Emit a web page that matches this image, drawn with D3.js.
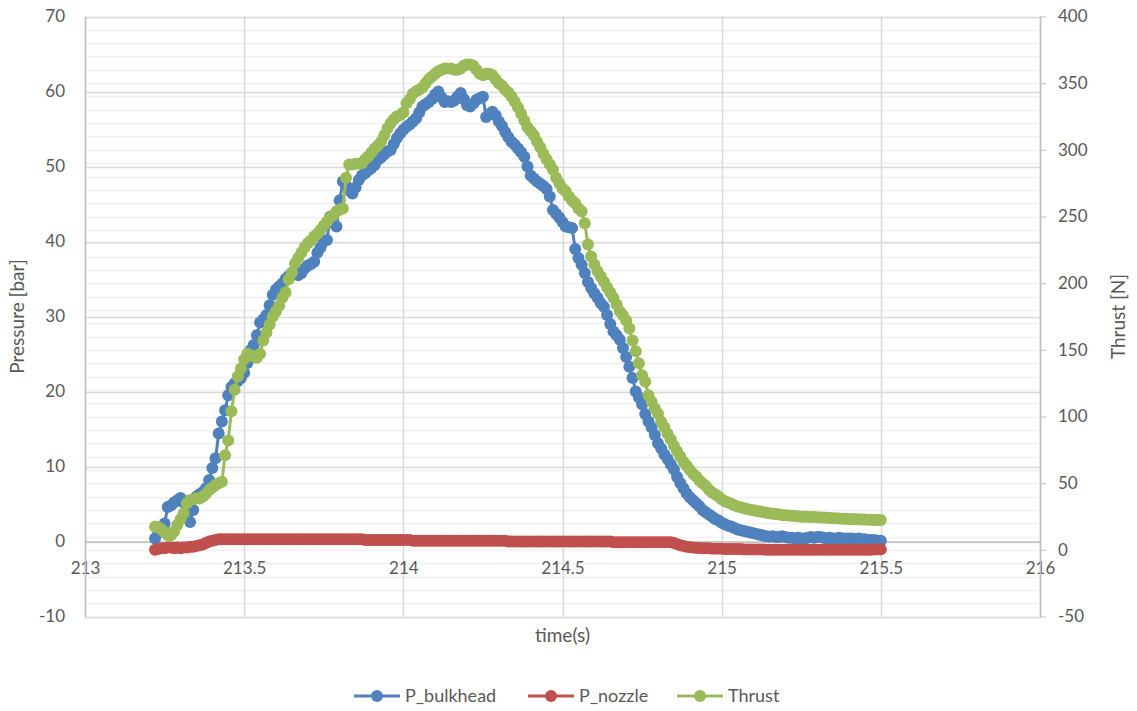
<!DOCTYPE html>
<html>
<head>
<meta charset="utf-8">
<script src="https://cdn.jsdelivr.net/npm/d3@7.9.0/dist/d3.min.js"></script>
<style>
  body { margin: 0; background: #fff; }
  svg { display: block; font-family: Lato, "Open Sans", sans-serif; }
</style>
</head>
<body>
<svg id="chart" width="1137" height="711"></svg>
<script>
// sample times (s)
const time = [
  213.22, 213.23, 213.24, 213.25, 213.26, 213.27, 213.28, 213.29,
  213.30, 213.31, 213.32, 213.33, 213.34, 213.35, 213.36, 213.37, 213.38, 213.39,
  213.40, 213.41, 213.42, 213.43, 213.44, 213.45, 213.46, 213.47, 213.48, 213.49,
  213.50, 213.51, 213.52, 213.53, 213.54, 213.55, 213.56, 213.57, 213.58, 213.59,
  213.60, 213.61, 213.62, 213.63, 213.64, 213.65, 213.66, 213.67, 213.68, 213.69,
  213.70, 213.71, 213.72, 213.73, 213.74, 213.75, 213.76, 213.77, 213.78, 213.79,
  213.80, 213.81, 213.82, 213.83, 213.84, 213.85, 213.86, 213.87, 213.88, 213.89,
  213.90, 213.91, 213.92, 213.93, 213.94, 213.95, 213.96, 213.97, 213.98, 213.99,
  214.00, 214.01, 214.02, 214.03, 214.04, 214.05, 214.06, 214.07, 214.08, 214.09,
  214.10, 214.11, 214.12, 214.13, 214.14, 214.15, 214.16, 214.17, 214.18, 214.19,
  214.20, 214.21, 214.22, 214.23, 214.24, 214.25, 214.26, 214.27, 214.28, 214.29,
  214.30, 214.31, 214.32, 214.33, 214.34, 214.35, 214.36, 214.37, 214.38, 214.39,
  214.40, 214.41, 214.42, 214.43, 214.44, 214.45, 214.46, 214.47, 214.48, 214.49,
  214.50, 214.51, 214.52, 214.53, 214.54, 214.55, 214.56, 214.57, 214.58, 214.59,
  214.60, 214.61, 214.62, 214.63, 214.64, 214.65, 214.66, 214.67, 214.68, 214.69,
  214.70, 214.71, 214.72, 214.73, 214.74, 214.75, 214.76, 214.77, 214.78, 214.79,
  214.80, 214.81, 214.82, 214.83, 214.84, 214.85, 214.86, 214.87, 214.88, 214.89,
  214.90, 214.91, 214.92, 214.93, 214.94, 214.95, 214.96, 214.97, 214.98, 214.99,
  215.00, 215.01, 215.02, 215.03, 215.04, 215.05, 215.06, 215.07, 215.08, 215.09,
  215.10, 215.11, 215.12, 215.13, 215.14, 215.15, 215.16, 215.17, 215.18, 215.19,
  215.20, 215.21, 215.22, 215.23, 215.24, 215.25, 215.26, 215.27, 215.28, 215.29,
  215.30, 215.31, 215.32, 215.33, 215.34, 215.35, 215.36, 215.37, 215.38, 215.39,
  215.40, 215.41, 215.42, 215.43, 215.44, 215.45, 215.46, 215.47, 215.48, 215.49,
  215.50
];

// P_bulkhead [bar]
const pBulkhead = [
  0.4, 1.2, 1.8, 2.4, 4.6, 4.8, 5.2, 5.5,
  5.8, 5.2, 3.5, 2.6, 4.2, 6.0, 6.3, 6.6, 7.1, 8.2,
  9.8, 11.1, 14.4, 16.0, 17.5, 19.5, 20.6, 21.1, 21.4, 21.8,
  22.5, 23.8, 25.5, 26.2, 27.5, 29.2, 29.6, 30.2, 31.5, 32.9,
  33.6, 34.0, 34.4, 35.0, 35.4, 35.6, 35.9, 35.5, 35.8, 36.4,
  36.8, 37.0, 37.3, 38.5, 39.2, 40.0, 40.2, 43.3, 42.5, 42.0,
  45.5, 48.0, 47.5, 46.8, 46.4, 47.2, 48.2, 48.8, 49.1, 49.5,
  49.8, 50.2, 50.9, 51.2, 51.6, 52.0, 52.2, 53.0, 53.8, 54.4,
  54.9, 55.3, 55.6, 56.0, 56.4, 57.2, 58.0, 58.3, 58.6, 59.0,
  59.6, 60.0, 59.2, 58.6, 58.7, 58.6, 58.8, 59.3, 59.8, 59.0,
  58.2, 58.0, 58.4, 58.9, 59.1, 59.3, 56.6, 57.0, 57.3, 56.8,
  56.0, 55.4, 54.6, 53.9, 53.3, 52.9, 52.4, 51.9, 51.3, 50.0,
  48.8, 48.4, 48.0, 47.7, 47.4, 47.0, 46.0, 44.2, 43.7, 43.2,
  42.6, 42.0, 41.9, 41.8, 39.0, 37.8, 36.9, 35.8, 34.6, 33.8,
  33.1, 32.5, 31.8, 31.3, 30.2, 29.0, 28.0, 27.5, 26.9, 25.8,
  24.6, 23.3, 21.8, 20.0, 19.2, 18.3, 17.0, 16.0, 15.2, 14.2,
  13.1, 12.4, 11.6, 11.0, 10.3, 9.6, 8.6, 7.8, 7.1, 6.4,
  5.9, 5.5, 5.1, 4.7, 4.2, 3.9, 3.6, 3.3, 3.0, 2.8,
  2.5, 2.3, 2.1, 2.0, 1.8, 1.6, 1.5, 1.4, 1.3, 1.2,
  1.1, 1.0, 0.9, 0.8, 0.7, 0.65, 0.7, 0.6, 0.6, 0.7,
  0.6, 0.5, 0.5, 0.4, 0.5, 0.4, 0.4, 0.5, 0.6, 0.5,
  0.6, 0.6, 0.5, 0.4, 0.5, 0.4, 0.4, 0.5, 0.4, 0.4,
  0.4, 0.4, 0.3, 0.4, 0.3, 0.3, 0.2, 0.2, 0.2, 0.1,
  0.1
];

// P_nozzle [bar]
const pNozzle = [
  -1.1, -1.0, -0.9, -0.9, -0.8, -0.8, -0.9, -0.8,
  -0.9, -0.8, -0.8, -0.7, -0.7, -0.6, -0.5, -0.4, -0.2, 0.0,
  0.1, 0.2, 0.3, 0.3, 0.3, 0.3, 0.3, 0.3, 0.3, 0.3,
  0.3, 0.3, 0.3, 0.3, 0.3, 0.3, 0.3, 0.3, 0.3, 0.3,
  0.3, 0.3, 0.3, 0.3, 0.3, 0.3, 0.3, 0.3, 0.3, 0.3,
  0.3, 0.3, 0.3, 0.3, 0.3, 0.3, 0.3, 0.3, 0.3, 0.3,
  0.3, 0.3, 0.3, 0.3, 0.3, 0.3, 0.3, 0.3, 0.2, 0.2,
  0.2, 0.2, 0.2, 0.2, 0.2, 0.2, 0.2, 0.2, 0.2, 0.2,
  0.2, 0.2, 0.2, 0.1, 0.1, 0.1, 0.1, 0.1, 0.1, 0.1,
  0.1, 0.1, 0.1, 0.1, 0.1, 0.1, 0.1, 0.1, 0.1, 0.1,
  0.1, 0.1, 0.1, 0.1, 0.1, 0.1, 0.1, 0.1, 0.1, 0.1,
  0.1, 0.1, 0.1, 0.0, 0.0, 0.0, 0.0, 0.0, 0.0, 0.0,
  0.0, 0.0, 0.0, 0.0, 0.0, 0.0, 0.0, 0.0, 0.0, 0.0,
  0.0, 0.0, 0.0, 0.0, 0.0, 0.0, 0.0, 0.0, 0.0, 0.0,
  0.0, 0.0, 0.0, 0.0, 0.0, 0.0, -0.1, -0.1, -0.1, -0.1,
  -0.1, -0.1, -0.1, -0.1, -0.1, -0.1, -0.1, -0.1, -0.1, -0.1,
  -0.1, -0.1, -0.1, -0.1, -0.1, -0.2, -0.35, -0.5, -0.6, -0.7,
  -0.75, -0.8, -0.85, -0.85, -0.9, -0.9, -0.9, -0.95, -0.95, -0.95,
  -0.95, -1.0, -1.0, -1.0, -1.0, -1.0, -1.0, -1.05, -1.05, -1.05,
  -1.05, -1.05, -1.05, -1.05, -1.1, -1.1, -1.1, -1.1, -1.1, -1.1,
  -1.1, -1.1, -1.1, -1.1, -1.1, -1.1, -1.1, -1.1, -1.1, -1.1,
  -1.1, -1.1, -1.1, -1.1, -1.1, -1.1, -1.1, -1.1, -1.1, -1.1,
  -1.1, -1.1, -1.1, -1.1, -1.1, -1.1, -1.1, -1.1, -1.05, -1.05,
  -1.05
];

// Thrust [N]
const thrust = [
  17.3, 17.0, 15.5, 13.0, 11.0, 11.0, 14.0, 18.6,
  23.0, 27.4, 35.0, 37.4, 38.0, 38.6, 38.5, 39.8, 42.0, 44.9,
  46.5, 48.6, 50.0, 51.0, 71.0, 82.0, 104.0, 120.0, 130.0, 136.0,
  143.0, 147.0, 146.0, 145.0, 144.0, 147.0, 157.0, 163.0, 169.0, 175.0,
  179.0, 183.0, 189.0, 193.0, 203.0, 208.0, 215.0, 219.0, 223.0, 227.0,
  230.0, 232.0, 235.0, 237.0, 240.0, 243.0, 246.0, 249.0, 251.0, 254.0,
  255.0, 256.0, 279.0, 289.0, 289.0, 289.5, 289.5, 290.0, 293.0, 295.0,
  298.0, 301.0, 303.0, 306.0, 311.0, 316.0, 320.0, 323.0, 325.0, 326.0,
  328.0, 335.0, 338.0, 342.0, 344.0, 345.0, 347.0, 350.0, 353.0, 355.0,
  357.0, 359.0, 360.0, 361.0, 361.0, 361.0, 360.0, 360.0, 361.0, 363.0,
  364.0, 364.0, 363.0, 360.0, 357.0, 356.0, 357.0, 357.0, 356.0, 353.0,
  350.0, 348.0, 345.0, 343.0, 340.0, 336.0, 332.0, 327.0, 322.0, 317.0,
  314.0, 311.0, 306.0, 302.0, 297.0, 293.0, 289.0, 285.0, 279.0, 275.0,
  271.0, 269.0, 265.0, 262.0, 260.0, 256.0, 254.0, 245.0, 229.0, 220.0,
  214.0, 209.0, 205.0, 201.0, 197.0, 193.0, 189.0, 184.0, 179.0, 176.0,
  172.0, 166.0, 157.0, 149.0, 140.0, 131.0, 126.0, 116.0, 111.0, 106.0,
  102.0, 96.0, 92.0, 87.0, 83.0, 78.0, 74.0, 70.0, 66.0, 63.0,
  60.0, 57.0, 55.0, 52.0, 50.0, 48.0, 45.0, 43.0, 41.5, 40.0,
  38.0, 36.5, 35.5, 34.5, 33.5, 32.5, 32.0, 31.2, 30.6, 30.0,
  29.7, 29.2, 28.8, 28.3, 27.8, 27.4, 27.1, 26.8, 26.5, 26.2,
  26.0, 25.8, 25.6, 25.3, 25.1, 24.9, 24.8, 24.8, 24.7, 24.6,
  24.5, 24.3, 24.2, 24.0, 23.9, 23.7, 23.6, 23.5, 23.4, 23.3,
  23.2, 23.1, 23.0, 22.9, 22.8, 22.7, 22.6, 22.5, 22.4, 22.3,
  22.3
];

const xTicks = [213, 213.5, 214, 214.5, 215, 215.5, 216];
const leftTicks = [-10, 0, 10, 20, 30, 40, 50, 60, 70];
const rightTicks = [-50, 0, 50, 100, 150, 200, 250, 300, 350, 400];
const seriesNames = ['P_bulkhead', 'P_nozzle', 'Thrust'];
const seriesColors = ['#4f81bd', '#c0504d', '#9bbb59'];

const svg = d3.select('#chart');
const plotLeft = 85, plotRight = 1040, plotTop = 16.5, plotBottom = 616.5;
const textColor = '#595959';
const plain = (d) => String(d);

const x = d3.scaleLinear().domain([213, 216]).range([plotLeft, plotRight]);
const yL = d3.scaleLinear().domain([-10, 70]).range([plotBottom, plotTop]);
const yR = d3.scaleLinear().domain([-50, 400]).range([plotBottom, plotTop]);

// minor gridlines (thrust axis, every 10 N)
svg.append('g')
  .selectAll('line')
  .data(d3.range(-50, 401, 10))
  .join('line')
  .attr('x1', plotLeft).attr('x2', plotRight)
  .attr('y1', (d) => Math.round(yR(d)) + 0.5)
  .attr('y2', (d) => Math.round(yR(d)) + 0.5)
  .attr('stroke', '#f0f0f0')
  .attr('stroke-width', 1.5);

// major gridlines
svg.append('g')
  .selectAll('line')
  .data(leftTicks)
  .join('line')
  .attr('x1', plotLeft).attr('x2', plotRight)
  .attr('y1', (d) => Math.round(yL(d)) + 0.5)
  .attr('y2', (d) => Math.round(yL(d)) + 0.5)
  .attr('stroke', '#d9d9d9')
  .attr('stroke-width', 1.5);

svg.append('g')
  .selectAll('line')
  .data(xTicks)
  .join('line')
  .attr('x1', (d) => Math.round(x(d)) + 0.5)
  .attr('x2', (d) => Math.round(x(d)) + 0.5)
  .attr('y1', plotTop).attr('y2', plotBottom)
  .attr('stroke', '#d9d9d9')
  .attr('stroke-width', 1.5);

// axes
const xAxis = svg.append('g')
  .attr('transform', `translate(0,${yL(0)})`)
  .call(d3.axisBottom(x).tickValues(xTicks).tickFormat(plain).tickSize(0).tickPadding(20));
xAxis.select('.domain').attr('stroke', '#bfbfbf').attr('stroke-width', 1.5);

const leftAxis = svg.append('g')
  .attr('transform', `translate(${plotLeft},0)`)
  .call(d3.axisLeft(yL).tickValues(leftTicks).tickFormat(plain).tickSize(0).tickPadding(20));
leftAxis.select('.domain').attr('stroke', '#bfbfbf').attr('stroke-width', 1.5);

const rightAxis = svg.append('g')
  .attr('transform', `translate(${plotRight},0)`)
  .call(d3.axisRight(yR).tickValues(rightTicks).tickFormat(plain).tickSize(6).tickSizeOuter(0).tickPadding(12));
rightAxis.select('.domain').attr('stroke', '#bfbfbf').attr('stroke-width', 1.5);
rightAxis.selectAll('.tick line').attr('stroke', '#bfbfbf');

svg.selectAll('.tick text')
  .attr('fill', textColor)
  .style('font-family', 'Lato, sans-serif')
  .style('font-size', '17px');

// series
const series = [
  { values: pBulkhead, y: yL },
  { values: pNozzle, y: yL },
  { values: thrust, y: yR }
];

series.forEach((s, i) => {
  const pts = time.map((t, j) => [x(t), s.y(s.values[j])]);
  const g = svg.append('g');
  g.append('path')
    .attr('d', d3.line()(pts))
    .attr('fill', 'none')
    .attr('stroke', seriesColors[i])
    .attr('stroke-width', 3)
    .attr('stroke-linejoin', 'round');
  g.selectAll('circle')
    .data(pts)
    .join('circle')
    .attr('cx', (d) => d[0])
    .attr('cy', (d) => d[1])
    .attr('r', 6)
    .attr('fill', seriesColors[i]);
});

// axis titles
svg.append('text')
  .attr('transform', `translate(24,${(plotTop + plotBottom) / 2}) rotate(-90)`)
  .attr('text-anchor', 'middle')
  .attr('fill', textColor)
  .style('font-size', '19px')
  .text('Pressure [bar]');

svg.append('text')
  .attr('transform', `translate(1125,${(plotTop + plotBottom) / 2}) rotate(-90)`)
  .attr('text-anchor', 'middle')
  .attr('fill', textColor)
  .style('font-size', '19px')
  .text('Thrust [N]');

svg.append('text')
  .attr('x', (plotLeft + plotRight) / 2)
  .attr('y', 642)
  .attr('text-anchor', 'middle')
  .attr('fill', textColor)
  .style('font-size', '19px')
  .text('time(s)');

// legend
const legendX = [354, 528, 677];
const legend = svg.append('g');
seriesNames.forEach((name, i) => {
  const lx = legendX[i];
  legend.append('line')
    .attr('x1', lx).attr('x2', lx + 46)
    .attr('y1', 696).attr('y2', 696)
    .attr('stroke', seriesColors[i])
    .attr('stroke-width', 3);
  legend.append('circle')
    .attr('cx', lx + 23).attr('cy', 696).attr('r', 6)
    .attr('fill', seriesColors[i]);
  legend.append('text')
    .attr('x', lx + 51).attr('y', 702)
    .attr('fill', textColor)
    .style('font-size', '18px')
    .text(name);
});
</script>
</body>
</html>
